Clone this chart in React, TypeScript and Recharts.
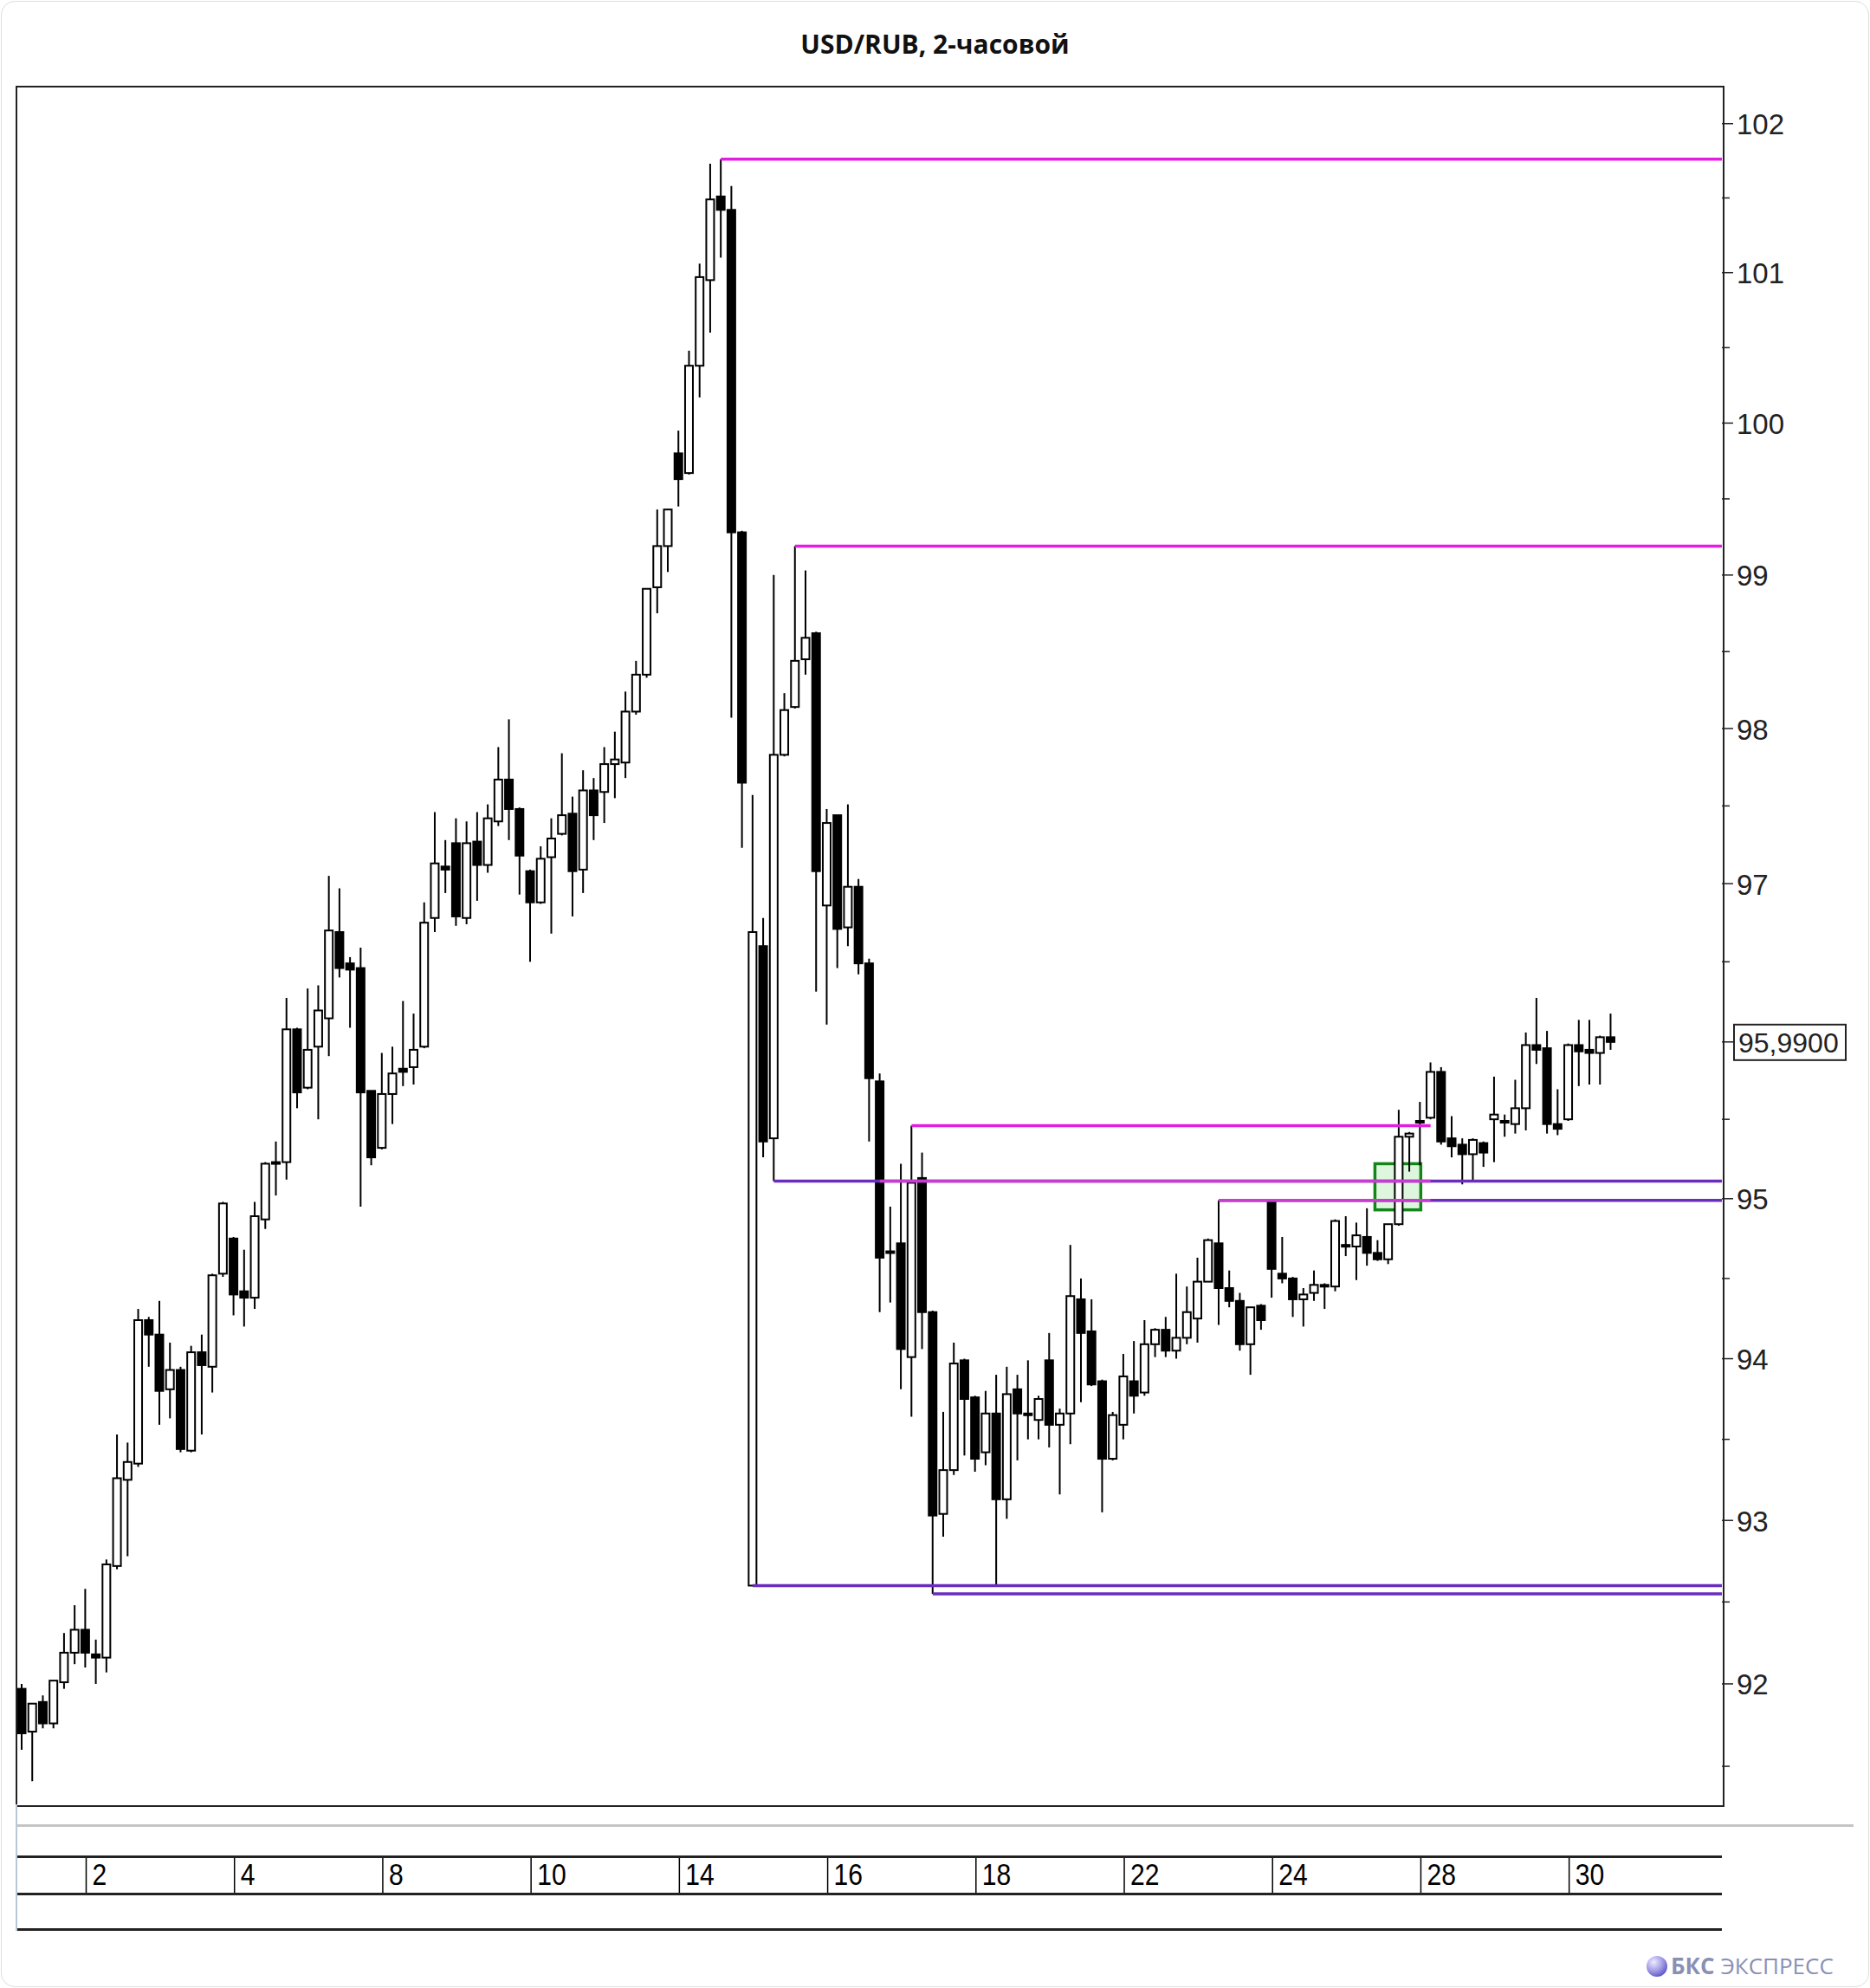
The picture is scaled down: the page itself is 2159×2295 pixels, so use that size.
import React from 'react'
import { ComposedChart, Bar, XAxis, YAxis, ReferenceLine, ReferenceArea } from 'recharts'

// 2-hour candles, Aug 2023 (index 0 = first candle on the chart)
const OPEN = [
  91.97, 91.71, 91.89, 91.76, 92.01, 92.19, 92.33, 92.18, 92.16, 92.72,
  93.25, 93.35, 94.24, 94.15, 93.81, 93.93, 93.43, 94.04, 93.95, 94.53,
  94.75, 94.42, 94.38, 94.87, 95.23, 95.23, 96.07, 95.7, 95.96, 96.14,
  96.69, 96.49, 96.46, 95.68, 95.32, 95.66, 95.82, 95.83, 95.96, 96.78,
  97.11, 97.26, 96.78, 97.27, 97.12, 97.4, 97.67, 97.48, 97.08, 96.88,
  97.17, 97.32, 97.45, 97.09, 97.6, 97.59, 97.77, 97.78, 98.11, 98.35,
  98.92, 99.19, 99.8, 99.67, 100.38, 100.95, 101.51, 101.42, 99.28, 92.6,
  96.6, 95.38, 97.83, 98.14, 98.45, 98.62, 96.86, 97.44, 96.72, 96.98,
  96.49, 95.74, 94.67, 94.72, 94.01, 95.13, 94.29, 93.04, 93.31, 93.99,
  93.76, 93.42, 93.66, 93.13, 93.81, 93.66, 93.62, 93.99, 93.59, 93.66,
  94.37, 94.17, 93.86, 93.38, 93.59, 93.86, 93.79, 94.09, 94.18, 94.05,
  94.13, 94.25, 94.48, 94.72, 94.44, 94.36, 94.09, 94.33, 94.98, 94.53,
  94.5, 94.37, 94.41, 94.46, 94.45, 94.7, 94.7, 94.76, 94.66, 94.62,
  94.84, 95.39, 95.49, 95.51, 95.8, 95.38, 95.34, 95.28, 95.35, 95.5,
  95.49, 95.47, 95.57, 95.97, 95.95, 95.47, 95.5, 95.97, 95.94, 95.92,
  96.02,
]
const HIGH = [
  92.0, 91.88, 91.93, 92.02, 92.31, 92.48, 92.58, 92.27, 92.76, 93.53,
  93.48, 94.31, 94.26, 94.36, 94.1, 93.95, 94.08, 94.15, 94.53, 94.98,
  94.76, 94.68, 94.98, 95.23, 95.36, 96.27, 96.08, 96.33, 96.35, 97.05,
  96.97, 96.53, 96.59, 95.68, 95.92, 95.96, 96.25, 96.17, 96.88, 97.46,
  97.28, 97.42, 97.4, 97.46, 97.51, 97.88, 98.06, 97.49, 97.09, 97.24,
  97.42, 97.84, 97.56, 97.73, 97.68, 97.88, 97.98, 98.24, 98.44, 98.91,
  99.43, 99.43, 99.95, 100.48, 101.06, 101.73, 101.76, 101.58, 99.29, 97.57,
  96.78, 99.0, 98.23, 99.19, 99.03, 98.63, 97.48, 97.44, 97.51, 97.03,
  96.52, 95.79, 94.95, 95.22, 95.46, 95.29, 94.3, 93.67, 94.1, 94.0,
  93.77, 93.8, 93.9, 93.95, 93.9, 93.99, 93.77, 94.16, 93.69, 94.71,
  94.5, 94.37, 93.87, 93.67, 94.03, 94.11, 94.24, 94.19, 94.26, 94.53,
  94.45, 94.63, 94.75, 94.99, 94.55, 94.41, 94.32, 94.34, 94.99, 94.76,
  94.51, 94.44, 94.55, 94.47, 94.87, 94.89, 94.85, 94.94, 94.74, 94.84,
  95.56, 95.42, 95.61, 95.86, 95.83, 95.52, 95.38, 95.38, 95.36, 95.77,
  95.53, 95.75, 96.05, 96.27, 96.06, 95.69, 95.98, 96.13, 96.13, 96.03,
  96.17,
]
const LOW = [
  91.6, 91.41, 91.73, 91.73, 91.97, 92.12, 92.1, 92.0, 92.07, 92.7,
  92.78, 93.33, 93.95, 93.59, 93.63, 93.42, 93.42, 93.53, 93.79, 94.51,
  94.27, 94.2, 94.31, 94.81, 95.02, 95.12, 95.57, 95.69, 95.5, 95.9,
  96.4, 96.08, 94.95, 95.21, 95.31, 95.47, 95.71, 95.72, 95.95, 96.69,
  96.94, 96.73, 96.74, 96.89, 97.07, 97.37, 97.28, 96.93, 96.5, 96.87,
  96.68, 97.31, 96.79, 96.94, 97.28, 97.39, 97.55, 97.68, 98.09, 98.33,
  98.75, 99.02, 99.45, 99.66, 100.17, 100.6, 101.1, 98.07, 97.23, 92.6,
  95.26, 95.11, 97.82, 98.13, 98.35, 96.31, 96.1, 96.46, 96.6, 96.42,
  95.36, 94.29, 94.35, 93.81, 93.64, 94.06, 92.55, 92.9, 93.28, 93.4,
  93.3, 93.34, 92.6, 93.01, 93.37, 93.5, 93.5, 93.45, 93.16, 93.47,
  93.73, 93.83, 93.05, 93.37, 93.5, 93.66, 93.77, 94.01, 94.01, 94.0,
  94.09, 94.1, 94.48, 94.21, 94.32, 94.05, 93.9, 94.18, 94.38, 94.47,
  94.26, 94.2, 94.36, 94.31, 94.42, 94.64, 94.49, 94.58, 94.61, 94.59,
  94.83, 95.17, 95.21, 95.5, 95.34, 95.26, 95.09, 95.11, 95.2, 95.23,
  95.39, 95.41, 95.43, 95.85, 95.41, 95.4, 95.49, 95.71, 95.72, 95.72,
  95.94,
]
const CLOSE = [
  91.7, 91.88, 91.76, 92.02, 92.19, 92.33, 92.19, 92.16, 92.73, 93.26,
  93.36, 94.24, 94.15, 93.8, 93.93, 93.44, 94.04, 93.96, 94.52, 94.97,
  94.4, 94.38, 94.89, 95.22, 95.22, 96.07, 95.67, 95.94, 96.19, 96.7,
  96.46, 96.45, 95.67, 95.26, 95.66, 95.79, 95.8, 95.94, 96.75, 97.13,
  97.09, 96.79, 97.26, 97.12, 97.42, 97.67, 97.48, 97.18, 96.88, 97.16,
  97.29, 97.44, 97.08, 97.6, 97.44, 97.77, 97.8, 98.11, 98.35, 98.91,
  99.19, 99.43, 99.63, 100.38, 100.97, 101.49, 101.42, 99.28, 97.65, 96.69,
  95.36, 97.83, 98.12, 98.44, 98.59, 97.08, 97.39, 96.71, 96.98, 96.49,
  95.76, 94.63, 94.66, 94.06, 95.1, 94.29, 93.03, 93.31, 93.97, 93.75,
  93.38, 93.66, 93.13, 93.78, 93.66, 93.65, 93.75, 93.59, 93.66, 94.39,
  94.16, 93.84, 93.38, 93.65, 93.89, 93.77, 94.09, 94.18, 94.05, 94.13,
  94.29, 94.48, 94.74, 94.44, 94.36, 94.09, 94.32, 94.24, 94.56, 94.5,
  94.37, 94.4, 94.46, 94.45, 94.86, 94.71, 94.77, 94.66, 94.62, 94.84,
  95.39, 95.41, 95.48, 95.8, 95.36, 95.33, 95.28, 95.37, 95.29, 95.53,
  95.48, 95.57, 95.97, 95.94, 95.47, 95.44, 95.97, 95.93, 95.92, 96.02,
  95.99,
]

const SLOTS = 161 // candle slots on the time axis, the rest is empty space on the right
const DATE_TICKS = [6, 20, 34, 48, 62, 76, 90, 104, 118, 132, 146]
const DATE_LABELS = ['2', '4', '8', '10', '14', '16', '18', '22', '24', '28', '30']
const PRICE_TICKS = [
  91.5, 92, 92.5, 93, 93.5, 94, 94.5, 95, 95.5, 95.99, 96.5, 97, 97.5, 98, 98.5,
  99, 99.5, 100, 100.5, 101, 101.5, 102,
]
const LAST_PRICE = 95.99
const LAST_LABEL = '95,9900'

const MAGENTA = '#e31ee3'
const PURPLE = '#6a2dbf'
const PINK = '#c83ccf'

// horizontal levels: from candle, to candle (160 = right edge)
const LEVEL_FROM = [66, 73, 69, 86, 71, 81, 84, 113, 113]
const LEVEL_TO = [160, 160, 160, 160, 160, 133, 133, 160, 133]
const LEVEL_PRICE = [101.76, 99.19, 92.6, 92.55, 95.11, 95.11, 95.46, 94.99, 94.99]
const LEVEL_COLOR = [MAGENTA, MAGENTA, PURPLE, PURPLE, PURPLE, PINK, MAGENTA, PURPLE, PINK]

const BOX_X = [128, 131]
const BOX_Y = [94.93, 95.22]

const W = 2159
const H = 2295
const PLOT_L = 19
const PLOT_T = 100
const PLOT_R = 1988
const PLOT_B = 2083
const STRIP_TOP = 2143
const STRIP_MID = 2186
const STRIP_BOT = 2227

const data = Array.from({ length: SLOTS }, (_, i) =>
  i < OPEN.length
    ? { i, o: OPEN[i], h: HIGH[i], l: LOW[i], c: CLOSE[i], range: [LOW[i], HIGH[i]] }
    : { i, o: null, h: null, l: null, c: null, range: null }
)

function Candle(props: any) {
  const { x, y, width, height, payload } = props
  if (!payload || payload.o == null) return null
  const { o, h, l, c } = payload
  const top = Math.min(y, y + height)
  const bottom = Math.max(y, y + height)
  const lh = Math.log(h)
  const ll = Math.log(l)
  const py = (v: number) => top + ((bottom - top) * (lh - Math.log(v))) / (lh - ll)
  const cx = x + width / 2
  const yTop = py(Math.max(o, c))
  const yBot = py(Math.min(o, c))
  return (
    <g>
      <line x1={cx} x2={cx} y1={top} y2={bottom} stroke="#000" strokeWidth={2} />
      <rect
        x={cx - 4.5}
        y={yTop}
        width={9}
        height={Math.max(yBot - yTop, 2)}
        fill={c >= o ? '#fff' : '#000'}
        stroke="#000"
        strokeWidth={2}
      />
    </g>
  )
}

function PriceTick(props: any) {
  const { y, payload } = props
  const v = payload.value
  const font = "'Liberation Sans', Arial, sans-serif"
  if (v === LAST_PRICE) {
    return (
      <g>
        <line x1={PLOT_R} x2={PLOT_R + 14} y1={y} y2={y} stroke="#222" strokeWidth={1.5} />
        <rect x={2002} y={y - 20} width={129} height={41} fill="#fff" stroke="#222" strokeWidth={2} />
        <text x={2007} y={y + 1} dominantBaseline="central" fontSize={32} fontFamily={font} fill="#222">
          {LAST_LABEL}
        </text>
      </g>
    )
  }
  const major = Number.isInteger(v)
  return (
    <g>
      <line x1={PLOT_R} x2={PLOT_R + (major ? 13 : 9)} y1={y} y2={y} stroke="#222" strokeWidth={1.5} />
      {major && (
        <text x={PLOT_R + 17} y={y + 1} dominantBaseline="central" fontSize={33} fontFamily={font} fill="#222">
          {v}
        </text>
      )}
    </g>
  )
}

function DateTick(props: any) {
  const { x, payload } = props
  const k = DATE_TICKS.indexOf(payload.value)
  if (k < 0) return null
  return (
    <g>
      <line x1={x + 1} x2={x + 1} y1={STRIP_TOP} y2={STRIP_MID} stroke="#000" strokeWidth={1.5} />
      <text
        transform={`translate(${x + 8},${STRIP_MID - 10}) scale(0.86,1)`}
        fontSize={35}
        fontFamily="'Liberation Sans', Arial, sans-serif"
        fill="#000"
      >
        {DATE_LABELS[k]}
      </text>
    </g>
  )
}

const hline = (top: number, left: number, width: number, h: number, color: string) => (
  <div style={{ position: 'absolute', left, top, width, height: h, background: color }} />
)

export default function App() {
  return (
    <div style={{ position: 'absolute', left: 0, top: 0, width: W, height: H, background: '#fff', overflow: 'hidden' }}>
      <div
        style={{
          position: 'absolute',
          left: 1,
          top: 1,
          width: W - 4,
          height: H - 4,
          border: '1px solid #dedede',
          borderRadius: 16,
        }}
      />
      <div
        style={{
          position: 'absolute',
          left: 0,
          top: 31,
          width: W,
          textAlign: 'center',
          fontFamily: "'Open Sans', sans-serif",
          fontWeight: 700,
          fontSize: 30,
          lineHeight: '40px',
          color: '#111',
        }}
      >
        USD/RUB, 2-часовой
      </div>

      <div style={{ position: 'absolute', left: 0, top: 0 }}>
        <ComposedChart
          width={W}
          height={H}
          data={data}
          margin={{ top: PLOT_T, right: W - PLOT_R - 150, bottom: H - PLOT_B - 170, left: PLOT_L }}
        >
          <XAxis
            dataKey="i"
            type="category"
            height={170}
            ticks={DATE_TICKS}
            interval={0}
            tick={<DateTick />}
            tickLine={false}
            axisLine={false}
            tickSize={0}
          />
          <YAxis
            orientation="right"
            width={150}
            scale="log"
            domain={[91.27, 102.25]}
            allowDataOverflow
            ticks={PRICE_TICKS}
            interval={0}
            tick={<PriceTick />}
            tickLine={false}
            axisLine={false}
          />
          <Bar dataKey="range" barSize={10} shape={(p: any) => <Candle {...p} />} isAnimationActive={false} />
          {LEVEL_PRICE.map((price, k) => (
            <ReferenceLine
              key={k}
              segment={[
                { x: LEVEL_FROM[k], y: price },
                { x: LEVEL_TO[k], y: price },
              ]}
              ifOverflow="visible"
              shape={(p: any) => (
                <line
                  x1={p.x1}
                  y1={p.y1}
                  x2={LEVEL_TO[k] === SLOTS - 1 ? PLOT_R : p.x2}
                  y2={p.y2}
                  stroke={LEVEL_COLOR[k]}
                  strokeWidth={3.5}
                />
              )}
            />
          ))}
          <ReferenceArea
            x1={BOX_X[0]}
            x2={BOX_X[1]}
            y1={BOX_Y[0]}
            y2={BOX_Y[1]}
            ifOverflow="visible"
            shape={(p: any) => (
              <rect
                x={p.x + 3}
                y={p.y}
                width={p.width + 4}
                height={p.height}
                fill="rgba(120, 220, 120, 0.25)"
                stroke="#13861a"
                strokeWidth={3.5}
              />
            )}
          />
        </ComposedChart>
      </div>

      {/* plot frame */}
      <div
        style={{
          position: 'absolute',
          left: PLOT_L - 1,
          top: PLOT_T - 1,
          width: PLOT_R - PLOT_L,
          height: PLOT_B - PLOT_T,
          border: '2px solid #222',
          pointerEvents: 'none',
        }}
      />
      {/* date strip */}
      {hline(2106, PLOT_L, 2121, 3, '#c4c4c4')}
      {hline(STRIP_TOP - 1, PLOT_L, PLOT_R - PLOT_L, 3, '#222')}
      {hline(STRIP_MID - 1, PLOT_L, PLOT_R - PLOT_L, 3, '#222')}
      {hline(STRIP_BOT - 1, PLOT_L, PLOT_R - PLOT_L, 3, '#222')}
      <div style={{ position: 'absolute', left: PLOT_L - 1, top: PLOT_B, width: 1.5, height: STRIP_BOT - PLOT_B + 2, background: '#b9c7d6' }} />

      {/* logo */}
      <svg style={{ position: 'absolute', left: 1895, top: 2252 }} width={250} height={36}>
        <defs>
          <radialGradient id="ball" cx="35%" cy="30%" r="75%">
            <stop offset="0%" stopColor="#eceaff" />
            <stop offset="55%" stopColor="#a49ee6" />
            <stop offset="100%" stopColor="#5b55c4" />
          </radialGradient>
        </defs>
        <circle cx={18} cy={18} r={12} fill="url(#ball)" />
        <text x={34} y={27} fontSize={26} fontFamily="'Open Sans', sans-serif" fill="#8a8fb4">
          <tspan fontWeight={700}>БКС</tspan>
          <tspan> ЭКСПРЕСС</tspan>
        </text>
      </svg>
    </div>
  )
}
